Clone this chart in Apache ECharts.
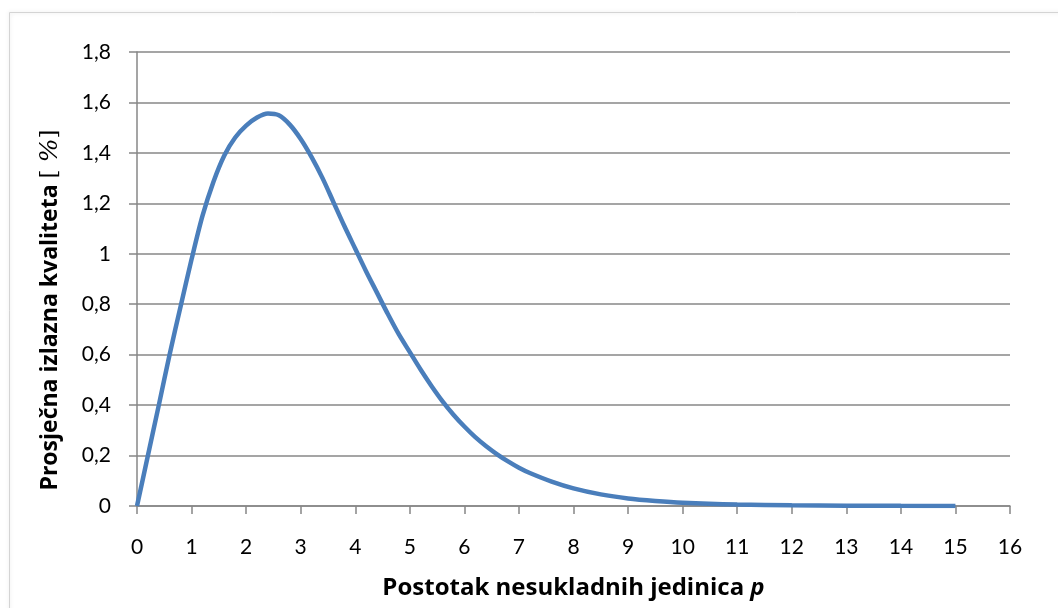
<!DOCTYPE html>
<html>
<head>
<meta charset="utf-8">
<script src="https://cdn.jsdelivr.net/npm/echarts@6/dist/echarts.min.js"></script>
<style>
    html, body {margin: 0; padding: 0; background: #fff;}
    #main {width: 1058px; height: 608px;}
</style>
</head>
<body>
<div id="main"></div>
<script>
    // postotak nesukladnih jedinica p (x) i prosjecna izlazna kvaliteta (y), ocitano sa slike
    var pValues = [0, 0.2, 0.4, 0.6, 0.8, 1, 1.2, 1.4, 1.6, 1.8, 2, 2.2, 2.4, 2.6, 2.8, 3, 3.2, 3.4, 3.6, 3.8,
        4, 4.2, 4.4, 4.6, 4.8, 5, 5.2, 5.4, 5.6, 5.8, 6, 6.2, 6.4, 6.6, 6.8, 7, 7.2, 7.6, 8, 8.5, 9, 9.5,
        10, 11, 12, 13, 14, 15];
    var aoqValues = [0, 0.2, 0.4, 0.603, 0.792, 0.978, 1.15, 1.285, 1.39, 1.461, 1.508, 1.54, 1.556, 1.549, 1.512, 1.455, 1.383, 1.3, 1.205, 1.11,
        1.02, 0.93, 0.845, 0.76, 0.68, 0.61, 0.54, 0.475, 0.415, 0.362, 0.315, 0.273, 0.237, 0.205, 0.177, 0.152, 0.131, 0.097, 0.07, 0.046, 0.03, 0.02,
        0.013, 0.006, 0.003, 0.0012, 0.0005, 0.0002];
    var yTicks = [0, 0.2, 0.4, 0.6, 0.8, 1, 1.2, 1.4, 1.6, 1.8];

    var chart = echarts.init(document.getElementById('main'));
    window.addEventListener("resize", function () {
        chart.resize()
    });

    var gray = '#878787';
    chart.setOption({
        animation: false,
        textStyle: {fontFamily: 'Lato'},
        graphic: [{
            type: 'rect', silent: true,
            shape: {x: 9.5, y: 12.5, width: 1100, height: 700},
            style: {fill: 'none', stroke: '#d4d4d4', lineWidth: 1, shadowColor: 'rgba(0,0,0,0.15)', shadowBlur: 4}
        }],
        grid: {left: 137, right: 48, top: 52, bottom: 102},
        xAxis: {
            type: 'value', min: 0, max: 16, interval: 1,
            name: '{b|Postotak nesukladnih jedinica }{bi|p}',
            nameLocation: 'middle', nameGap: 82,
            nameTextStyle: {
                align: 'center', verticalAlign: 'middle',
                rich: {
                    b: {fontSize: 24, fontWeight: 'bold', color: '#000', fontFamily: 'Open Sans'},
                    bi: {fontSize: 24, fontWeight: 'bold', fontStyle: 'italic', color: '#000', fontFamily: 'Open Sans'}
                }
            },
            axisLine: {show: true, onZero: false, lineStyle: {color: gray, width: 1.5}},
            axisTick: {show: true, length: 8, lineStyle: {color: gray, width: 1.5}},
            axisLabel: {color: '#000', fontSize: 21, margin: 31},
            splitLine: {show: false}
        },
        yAxis: {
            type: 'value', min: 0, max: 1.8, interval: 0.2,
            name: '{b|Prosječna izlazna kvaliteta }{n|[ }{i|%}{n|]}',
            nameLocation: 'middle', nameGap: 87, nameRotate: 90,
            nameTextStyle: {
                align: 'center', verticalAlign: 'middle',
                padding: [0, 62, 0, 0],
                rich: {
                    b: {fontSize: 23, fontWeight: 'bold', color: '#000', fontFamily: 'Open Sans'},
                    n: {fontSize: 23, color: '#000', fontFamily: 'DejaVu Serif'},
                    i: {fontSize: 25, fontStyle: 'italic', color: '#000', fontFamily: 'DejaVu Serif'}
                }
            },
            axisLine: {show: true, lineStyle: {color: gray, width: 1.5}},
            axisTick: {show: true, length: 8, lineStyle: {color: gray, width: 1.5}},
            axisLabel: {
                color: '#000', fontSize: 21, margin: 26,
                formatter: function (v) {
                    var t = yTicks.filter(function (k) { return Math.abs(k - v) < 1e-9; });
                    return String(t.length ? t[0] : v).replace('.', ',');
                }
            },
            splitLine: {show: true, lineStyle: {color: gray, width: 1.5}}
        },
        series: [{
            type: 'line',
            smooth: 0.3,
            showSymbol: false,
            lineStyle: {color: '#4a7ebb', width: 4.5},
            data: pValues.map(function (p, i) {
                return [p, aoqValues[i]];
            })
        }]
    });
</script>
</body>
</html>
